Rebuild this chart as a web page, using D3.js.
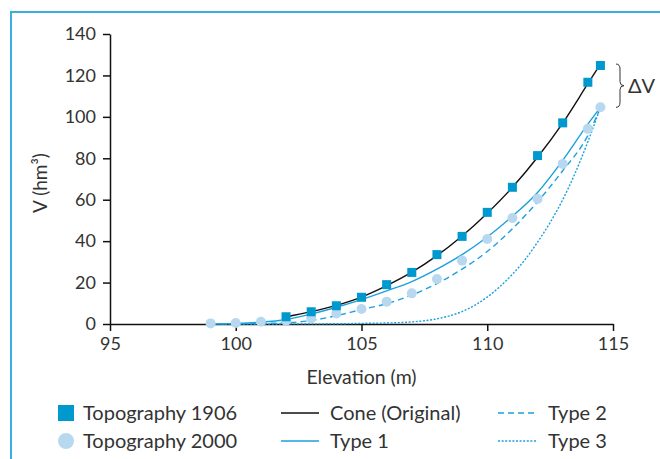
<!DOCTYPE html>
<html>
<head>
<meta charset="utf-8">
<script src="https://cdn.jsdelivr.net/npm/d3@7"></script>
<style>
  body { margin: 0; background: #fff; }
  svg text { font-family: Lato, "Open Sans", sans-serif; fill: #333; }
</style>
</head>
<body>
<svg id="chart"></svg>
<script>
// measured points
const topo1906 = [
  [102, 3.5], [103, 5.9], [104, 8.8], [105, 12.9], [106, 19], [107, 24.9],
  [108, 33.5], [109, 42.3], [110, 53.9], [111, 66], [112, 81.3], [113, 97.1],
  [114, 116.7], [114.5, 124.8]
];
const topo2000 = [
  [99, 0.3], [100, 0.5], [101, 1.1], [102, 1.6], [103, 2.7], [104, 5.1],
  [105, 7.2], [106, 10.8], [107, 14.8], [108, 21.7], [109, 30.6], [110, 41],
  [111, 51.2], [112, 60.4], [113, 77.3], [114, 94.2], [114.5, 104.6]
];

// model curves
const cone = [
  [102, 3.5], [103, 6], [104, 9], [105, 13], [106, 18.5], [107, 25], [108, 33],
  [109, 42.5], [110, 53.5], [111, 66], [112, 80.5], [113, 97], [114, 116], [114.5, 125.5]
];
const type1 = [
  [99, 0], [100, 0.3], [101, 0.9], [102, 2.2], [103, 4.8], [104, 8.1], [105, 11.8],
  [106, 16], [107, 20.5], [108, 26.5], [109, 33.5], [110, 42], [111, 52],
  [112, 63.5], [113, 79], [114, 96.5], [114.5, 104.6]
];
const type2 = [
  [99, 0], [100, 0.1], [101, 0.3], [102, 0.6], [103, 1.7], [104, 4], [105, 7],
  [106, 9.8], [107, 14], [108, 19.5], [109, 26.5], [110, 35], [111, 46],
  [112, 59], [113, 74], [114, 91], [114.5, 104.6]
];
const type3 = [
  [99, 0], [104, 0.1], [105, 0.3], [106, 0.5], [107, 1], [108, 2.5], [109, 6],
  [110, 13], [110.5, 18], [111, 24], [111.5, 31], [112, 39.5], [112.5, 49],
  [113, 60], [113.5, 73], [114, 88], [114.5, 104.6]
];

const xTicks = [95, 100, 105, 110, 115];
const yTicks = [0, 20, 40, 60, 80, 100, 120, 140];

const W = 660, H = 459;
const blue = "#1ba1dc", sqColor = "#0099cf", circColor = "#b7d8ef";

const svg = d3.select("#chart").attr("width", W).attr("height", H);

// frame
svg.append("path")
  .attr("d", `M11,${H + 5} V12 H${W + 5}`)
  .attr("fill", "none")
  .attr("stroke", "#3aaee0")
  .attr("stroke-width", 2);

const x = d3.scaleLinear().domain([95, 115]).range([110, 613]);
const y = d3.scaleLinear().domain([0, 140]).range([324, 34]);

const xAxis = svg.append("g")
  .attr("transform", `translate(0,${y(0)})`)
  .call(d3.axisBottom(x).tickValues(xTicks).tickSize(7).tickSizeOuter(0).tickPadding(6));
const yAxis = svg.append("g")
  .attr("transform", `translate(${x(95)},0)`)
  .call(d3.axisLeft(y).tickValues(yTicks).tickSize(7).tickSizeOuter(0).tickPadding(7));

[xAxis, yAxis].forEach(g => {
  g.selectAll("path, line").attr("stroke", "#111").attr("stroke-width", 1.5);
  g.selectAll("text").attr("font-size", 18).attr("fill", "#333")
    .style("font-family", "Lato, sans-serif");
});

// axis titles
svg.append("text")
  .attr("x", x(105)).attr("y", 384)
  .attr("text-anchor", "middle")
  .attr("font-size", 19.5)
  .text("Elevation (m)");

svg.append("text")
  .attr("transform", `translate(47,183) rotate(-90)`)
  .attr("text-anchor", "middle")
  .attr("font-size", 19)
  .text("V (hm³)");

// curves
const line = d3.line()
  .x(d => x(d[0]))
  .y(d => y(d[1]))
  .curve(d3.curveMonotoneX);

const curves = [
  { data: type3, color: blue, dash: "2,1.6" },
  { data: type2, color: blue, dash: "6,4" },
  { data: type1, color: blue, dash: null },
  { data: cone, color: "#111", dash: null },
];

svg.selectAll(".curve")
  .data(curves)
  .join("path")
  .attr("class", "curve")
  .attr("d", d => line(d.data))
  .attr("fill", "none")
  .attr("stroke", d => d.color)
  .attr("stroke-width", 1.4)
  .attr("stroke-dasharray", d => d.dash);

// points
svg.selectAll(".p2000")
  .data(topo2000)
  .join("circle")
  .attr("class", "p2000")
  .attr("cx", d => x(d[0]))
  .attr("cy", d => y(d[1]))
  .attr("r", 5)
  .attr("fill", circColor);

const sq = 9;
svg.selectAll(".p1906")
  .data(topo1906)
  .join("rect")
  .attr("class", "p1906")
  .attr("x", d => x(d[0]) - sq / 2)
  .attr("y", d => y(d[1]) - sq / 2)
  .attr("width", sq)
  .attr("height", sq)
  .attr("fill", sqColor);

// delta V brace
const bx = 616, bTop = y(125.5), bBot = y(104.6), bMid = (bTop + bBot) / 2;
svg.append("path")
  .attr("d", `M${bx},${bTop} Q${bx + 4},${bTop} ${bx + 4},${bTop + 5} V${bMid - 4} Q${bx + 4},${bMid} ${bx + 8},${bMid}
    Q${bx + 4},${bMid} ${bx + 4},${bMid + 4} V${bBot - 5} Q${bx + 4},${bBot} ${bx},${bBot}`)
  .attr("fill", "none")
  .attr("stroke", "#333")
  .attr("stroke-width", 1);

svg.append("text")
  .attr("x", 628).attr("y", bMid + 7)
  .attr("font-size", 20)
  .text("ΔV");

// legend
const legend = [
  { label: "Topography 1906", type: "square", col: 0, row: 0 },
  { label: "Topography 2000", type: "circle", col: 0, row: 1 },
  { label: "Cone (Original)", type: "line", color: "#111", dash: null, col: 1, row: 0 },
  { label: "Type 1", type: "line", color: blue, dash: null, col: 1, row: 1 },
  { label: "Type 2", type: "line", color: blue, dash: "6,4", col: 2, row: 0 },
  { label: "Type 3", type: "line", color: blue, dash: "2,1.6", col: 2, row: 1 },
];
const colX = [58, 281, 498], textX = [83, 330, 548], rowY = [413, 441];

const items = svg.selectAll(".legend")
  .data(legend)
  .join("g")
  .attr("class", "legend");

items.each(function (d) {
  const g = d3.select(this);
  const cy = rowY[d.row];
  if (d.type === "square") {
    g.append("rect").attr("x", colX[0]).attr("y", cy - 8)
      .attr("width", 16).attr("height", 16).attr("fill", sqColor);
  } else if (d.type === "circle") {
    g.append("circle").attr("cx", colX[0] + 8).attr("cy", cy)
      .attr("r", 8).attr("fill", circColor);
  } else {
    g.append("line")
      .attr("x1", colX[d.col]).attr("x2", colX[d.col] + 38)
      .attr("y1", cy).attr("y2", cy)
      .attr("stroke", d.color).attr("stroke-width", 1.4)
      .attr("stroke-dasharray", d.dash);
  }
  g.append("text")
    .attr("x", textX[d.col]).attr("y", cy + 7)
    .attr("font-size", 20)
    .text(d.label);
});
</script>
</body>
</html>
